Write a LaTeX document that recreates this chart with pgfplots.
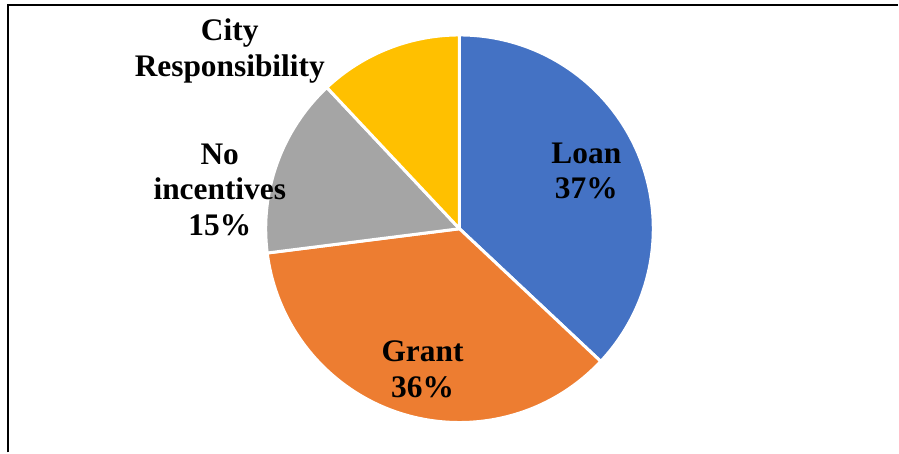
\documentclass[border=0pt]{standalone}
\usepackage{pgfplots}
\pgfplotsset{compat=1.18}
\usepackage{pgfplotstable}
\usepackage{fontspec}
\setmainfont{Liberation Serif}
\definecolor{cLoan}{HTML}{4472C4}
\definecolor{cGrant}{HTML}{ED7D31}
\definecolor{cNone}{HTML}{A5A5A5}
\definecolor{cCity}{HTML}{FFC000}
\tikzset{lbl/.style={align=center,font=\bfseries\fontsize{15.7}{17.8}\selectfont,inner sep=0pt}}
\pgfplotstableread{
name value
Loan 37
Grant 36
NoIncentives 15
City 12
}\piedata
\pgfplotstablegetelem{0}{value}\of\piedata\let\vA\pgfplotsretval
\pgfplotstablegetelem{1}{value}\of\piedata\let\vB\pgfplotsretval
\pgfplotstablegetelem{2}{value}\of\piedata\let\vC\pgfplotsretval
\pgfplotstablegetelem{3}{value}\of\piedata\let\vD\pgfplotsretval
\pgfmathsetmacro\aA{90}
\pgfmathsetmacro\aB{\aA-3.6*\vA}
\pgfmathsetmacro\aC{\aB-3.6*\vB}
\pgfmathsetmacro\aD{\aC-3.6*\vC}
\pgfmathsetmacro\aE{\aD-3.6*\vD}
\begin{document}
\begin{tikzpicture}
\begin{axis}[x=0.5pt,y=0.5pt,xmin=0,xmax=899,ymin=0,ymax=453,hide axis,clip=false]
\path (axis cs:0,0) (axis cs:899,453);
\filldraw[fill=cLoan,draw=white,line width=1.5pt,line join=round] (axis cs:460,224) -- ++(\aA:97pt) arc[start angle=\aA,end angle=\aB,radius=97pt] -- cycle;
\filldraw[fill=cGrant,draw=white,line width=1.5pt,line join=round] (axis cs:460,224) -- ++(\aB:97pt) arc[start angle=\aB,end angle=\aC,radius=97pt] -- cycle;
\filldraw[fill=cNone,draw=white,line width=1.5pt,line join=round] (axis cs:460,224) -- ++(\aC:97pt) arc[start angle=\aC,end angle=\aD,radius=97pt] -- cycle;
\filldraw[fill=cCity,draw=white,line width=1.5pt,line join=round] (axis cs:460,224) -- ++(\aD:97pt) arc[start angle=\aD,end angle=\aE,radius=97pt] -- cycle;
\node[lbl] at (axis cs:587,282) {Loan\\37\%};
\node[lbl] at (axis cs:423,83) {Grant\\36\%};
\node[lbl] at (axis cs:220,263) {No\\incentives\\15\%};
\node[lbl] at (axis cs:230,402) {City\\Responsibility};
\draw[line width=1pt] (axis cs:8.5,0) -- (axis cs:8.5,448) -- (axis cs:899,448);
\end{axis}
\end{tikzpicture}
\end{document}
